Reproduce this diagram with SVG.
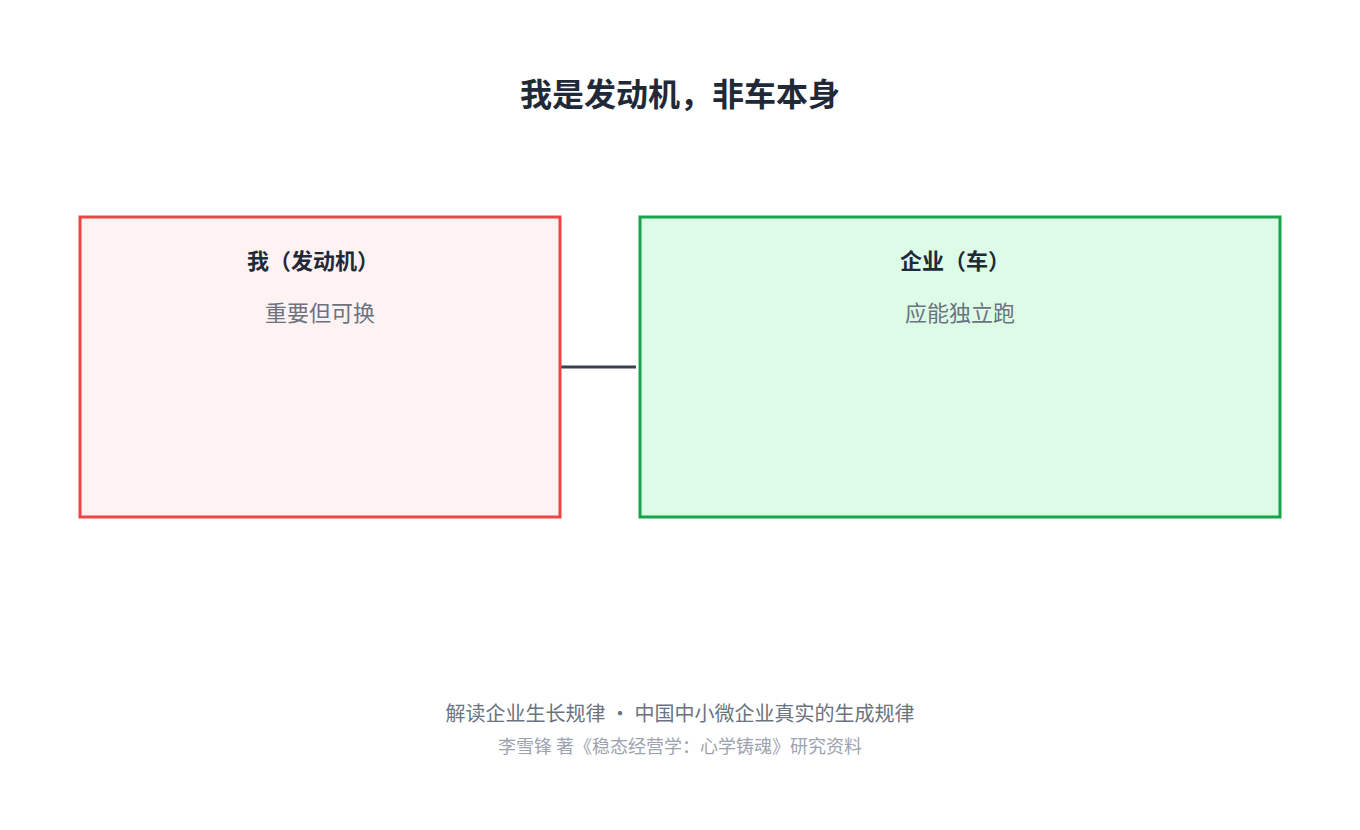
<svg xmlns="http://www.w3.org/2000/svg" width="1360" height="830" viewBox="0 0 1360 830">
<style>
text{font-family:"Noto Sans CJK SC","Noto Sans",sans-serif;text-anchor:middle}
.t{font-size:32px;font-weight:bold;fill:#1f2937}
.h{font-size:22px;font-weight:bold;fill:#1f2937}
.s{font-size:22px;fill:#6b7280}
.f1{font-size:20px;fill:#6b7280}
.f2{font-size:18px;fill:#9ca3af}
</style>
<rect width="1360" height="830" fill="#fff"/>
<text class="t" x="680" y="106">我是发动机，非车本身</text>
<g id="connectors"><line x1="560" y1="367" x2="636" y2="367" stroke="#374151" stroke-width="3"/></g>
<g id="engine">
<rect x="80" y="217" width="480" height="300" fill="#fef2f2" stroke="#ef4444" stroke-width="3"/>
<text class="h" x="313" y="269">我（发动机）</text>
<text class="s" x="320" y="321">重要但可换</text>
</g>
<g id="car">
<rect x="640" y="217" width="640" height="300" fill="#dcfce7" stroke="#16a34a" stroke-width="3"/>
<text class="h" x="955" y="269">企业（车）</text>
<text class="s" x="960" y="321">应能独立跑</text>
</g>
<text class="f1" x="680" y="721">解读企业生长规律 · 中国中小微企业真实的生成规律</text>
<text class="f2" x="680" y="753">李雪锋 著《稳态经营学：心学铸魂》研究资料</text>
</svg>
